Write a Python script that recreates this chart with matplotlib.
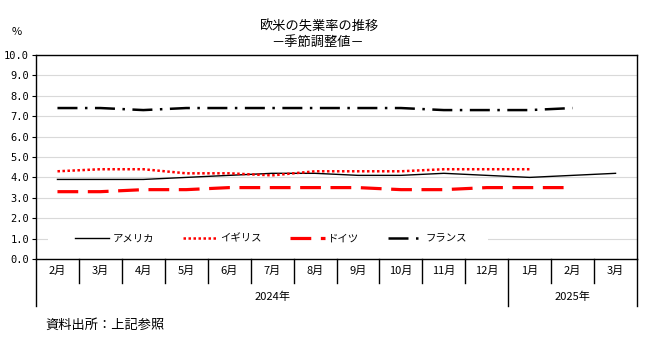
import matplotlib
matplotlib.use("Agg")
import matplotlib.pyplot as plt
from matplotlib.patches import Rectangle
import numpy as np

plt.rcParams['font.family'] = ['Noto Sans CJK JP', 'DejaVu Sans']

# 月別の失業率（季節調整値, %）
months = ["2月", "3月", "4月", "5月", "6月", "7月", "8月", "9月",
          "10月", "11月", "12月", "1月", "2月", "3月"]
years = ["2024年", "2025年"]
year_months = [11, 3]  # 各年の月数

usa = [3.9, 3.9, 3.9, 4.0, 4.1, 4.2, 4.2, 4.1, 4.1, 4.2, 4.1, 4.0, 4.1, 4.2]
uk = [4.3, 4.4, 4.4, 4.2, 4.2, 4.1, 4.3, 4.3, 4.3, 4.4, 4.4, 4.4]
germany = [3.3, 3.3, 3.4, 3.4, 3.5, 3.5, 3.5, 3.5, 3.4, 3.4, 3.5, 3.5, 3.5]
france = [7.4, 7.4, 7.3, 7.4, 7.4, 7.4, 7.4, 7.4, 7.4, 7.3, 7.3, 7.3, 7.4]

fig = plt.figure(figsize=(6.6, 3.39), dpi=100)
ax = fig.add_axes([36/660, 80/339, 601/660, 204/339])

ax.plot(np.arange(len(usa)), usa, color='black', lw=1.0, label='アメリカ')
ax.plot(np.arange(len(uk)), uk, color='red', lw=1.8, ls=(0, (1, 1)), label='イギリス')
ax.plot(np.arange(len(germany)), germany, color='red', lw=2.3, ls=(0, (6.5, 3)), label='ドイツ')
ax.plot(np.arange(len(france)), france, color='black', lw=1.8, ls=(0, (8, 3, 1, 3)), label='フランス')

ax.set_xlim(-0.5, len(months) - 0.5)
ax.set_ylim(0, 10)
ax.set_yticks(np.arange(0, 10.1, 1))
ax.set_yticklabels([f"{v:.1f}" for v in np.arange(0, 10.1, 1)],
                   family='DejaVu Sans Mono', fontsize=7.5)
ax.tick_params(axis='y', length=3, width=0.8, pad=2)
ax.set_xticks([])
ax.grid(axis='y', color='#d9d9d9', lw=0.8)
ax.set_axisbelow(True)
for s in ax.spines.values():
    s.set_color('black')
    s.set_linewidth(1.0)

# 下部の月・年の区切り線
tr = ax.get_xaxis_transform()
year_edges = np.cumsum([0] + year_months) - 0.5
for i in range(len(months) + 1):
    x = i - 0.5
    y_end = -0.232 if x in year_edges else -0.118
    ax.plot([x, x], [0, y_end], color='black', lw=1.0, transform=tr, clip_on=False)
for i, m in enumerate(months):
    ax.text(i, -0.059, m, transform=tr, ha='center', va='center', fontsize=8)
for k, y in enumerate(years):
    ax.text((year_edges[k] + year_edges[k + 1]) / 2, -0.185, y, transform=tr,
            ha='center', va='center', fontsize=8)

# 凡例の背景（目盛線を隠す）
ax.add_patch(Rectangle((0.02, 0.06), 0.732, 0.08, transform=ax.transAxes,
                       facecolor='white', edgecolor='none', zorder=1.5))
leg = ax.legend(loc='center left', bbox_to_anchor=(0.058, 0.1), ncol=4,
                frameon=False, fontsize=7.5, handlelength=3.3, handletextpad=0.3,
                columnspacing=2.75, borderpad=0.4, borderaxespad=0)

fig.text(320/660, 1 - 27/339, '欧米の失業率の推移', ha='center', va='center', fontsize=9.5)
fig.text(318/660, 1 - 42/339, '－季節調整値－', ha='center', va='center', fontsize=9.5)
fig.text(17/660, 1 - 32/339, '%', ha='center', va='center', fontsize=8)
fig.text(45/660, 1 - 325/339, '資料出所：上記参照', ha='left', va='center', fontsize=9.5)

fig.savefig('out.png', dpi=100)
